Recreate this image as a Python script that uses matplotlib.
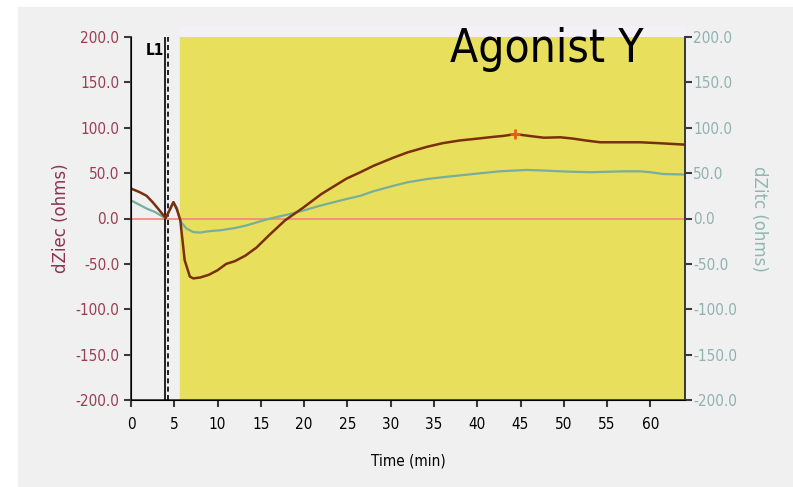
import numpy as np
import matplotlib.pyplot as plt
from matplotlib.patches import Rectangle

# DATA -------------------------------------------------------
# dZiec (left axis, brown trace)
t_ziec = [0, 0.5, 1, 1.8, 2.5, 3.2, 4.0, 4.5, 4.9, 5.3, 5.7, 6.2, 6.8, 7.2, 8, 9,
          10, 11, 12, 13.2, 14.5, 16, 17.8, 19.9, 22, 24.9, 26.5, 28, 30.3, 32,
          34.2, 36, 38, 40, 41.9, 43, 44.4, 46, 47.7, 49.6, 51.1, 52.5, 54.2, 56,
          58.8, 61, 63.8, 64]
ziec = [33, 31, 29, 25, 18, 10, 0.5, 10, 18, 10, -2, -46, -64, -66, -65, -62,
        -57, -50, -47, -41, -32, -18, -2, 12, 27, 44, 51, 58, 67, 73,
        79, 83, 86, 88, 90, 91, 93, 91, 89, 89.5, 88, 86, 84, 84,
        84, 83, 81.5, 81]

# dZitc (right axis, green trace)
t_zitc = [0, 1, 1.8, 2.8, 3.5, 4.0, 4.5, 4.9, 5.3, 5.7, 6.4, 7.2, 8, 9, 10.3,
          12, 13.4, 14.8, 16.1, 18.4, 20, 21.8, 24.9, 26.5, 28, 30.3, 32, 34.2,
          36, 38, 40, 42.6, 45.7, 47.3, 49.6, 51, 53.1, 55, 57, 58.8, 60, 61.5,
          63.8, 64]
zitc = [20, 15, 11, 7, 3, 0.5, 10, 18, 12, -3, -11, -15, -15.5, -14, -13,
        -10.5, -7.5, -3.5, 0, 5, 9, 14, 21.5, 25, 30, 36, 40, 43.5,
        45.5, 47.5, 49.5, 52, 53.5, 53, 52, 51.5, 51, 51.5, 52, 52, 51, 49,
        48.5, 48.5]

marker_t, marker_v = 44.4, 93
l1_solid, l1_dash = 3.93, 4.33
shade_start = 5.66
yticks = np.arange(-200, 201, 50)
xticks = np.arange(0, 61, 5)

# PLOT -------------------------------------------------------
fig = plt.figure(figsize=(7.93, 4.87), dpi=100, facecolor='white')
fig.patches.append(Rectangle((18/793, 0), 1 - 18/793, 1 - 7/487,
                             transform=fig.transFigure, color='#f0f0f0', zorder=-2))
# light strip above the shaded region
fig.patches.append(Rectangle((180/793, 1 - 37/487), (685 - 180)/793, 10/487,
                             transform=fig.transFigure, color='#f3f0f8', zorder=-1))

ax = fig.add_axes([131/793, 1 - 400/487, 554/793, 363/487])
ax.set_facecolor('#f0f0f0')
ax.axvspan(shade_start, 64, color='#e8df5c', zorder=0)

ax.axhline(0, color='#f08c7c', lw=1.3, zorder=2)
ax.axvline(l1_solid, color='black', lw=1.2, zorder=3)
ax.axvline(l1_dash, color='black', lw=1.2, ls=(0, (3, 2)), zorder=3)
ax.text(l1_solid - 0.1, 185, 'L1', ha='right', va='center', fontsize=11,
        fontweight='bold', fontstretch='condensed')

ax.plot(t_zitc, zitc, color='#78ae9c', lw=1.6, zorder=4)
ax.plot(t_ziec, ziec, color='#7a2f0c', lw=1.8, zorder=5)
ax.plot(marker_t, marker_v, marker='+', color='#e0601c', ms=7, mew=2, zorder=6)

ax.set_xlim(0, 64)
ax.set_ylim(-200, 200)
ax.set_xticks(xticks)
ax.set_yticks(yticks)
ax.set_yticklabels([f'{v:.1f}' for v in yticks])

for lab in ax.get_xticklabels() + ax.get_yticklabels():
    lab.set_fontstretch('condensed')
    lab.set_fontsize(11)
for lab in ax.get_yticklabels():
    lab.set_color('#9a3c52')

ax.spines['top'].set_visible(False)
for s in ['left', 'bottom', 'right']:
    ax.spines[s].set_color('#3a3a3a')
    ax.spines[s].set_linewidth(1.3)
ax.tick_params(direction='out', length=5, width=1.5, color='#3a3a3a')
ax.tick_params(axis='x', pad=7)

ax2 = ax.twinx()
ax2.set_ylim(-200, 200)
ax2.set_yticks(yticks)
ax2.set_yticklabels([f'{v:.1f}' for v in yticks])
for lab in ax2.get_yticklabels():
    lab.set_fontstretch('condensed')
    lab.set_fontsize(11)
    lab.set_color('#8fb2b0')
ax2.spines['top'].set_visible(False)
ax2.spines['right'].set_color('#3a3a3a')
ax2.spines['right'].set_linewidth(1.3)
ax2.tick_params(direction='out', length=5, width=1.5, color='#3a3a3a', pad=1)

ax.set_ylabel('dZiec (ohms)', color='#8c3452', fontsize=12, labelpad=4)
ax2.set_ylabel('dZitc (ohms)', color='#8fb8b0', fontsize=12, rotation=270,
               labelpad=22)
ax.set_xlabel('Time (min)', fontstretch='condensed', fontsize=11, labelpad=16)

fig.text(450/793, 1 - 62/487, 'Agonist Y', fontsize=33, ha='left',
         va='baseline', color='black', fontstretch='condensed')

fig.savefig('out.png', dpi=100, facecolor=fig.get_facecolor())
